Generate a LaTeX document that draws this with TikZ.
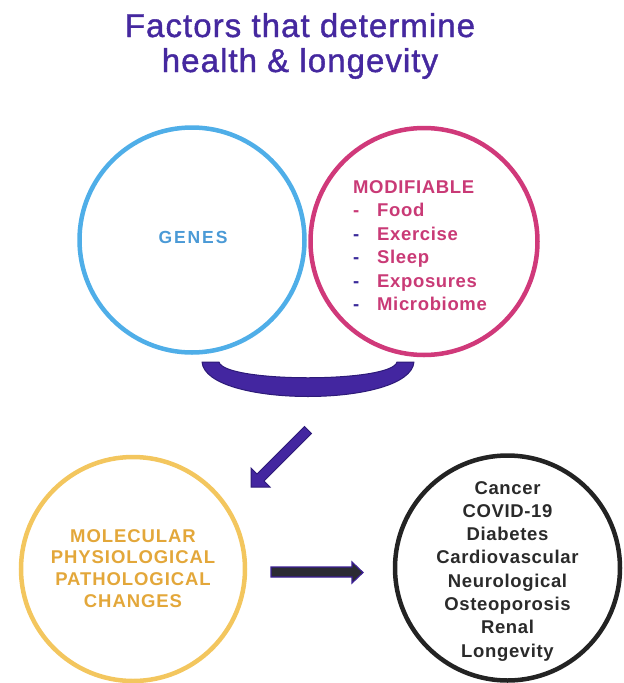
\documentclass[tikz,border=0pt]{standalone}
\usepackage{fontspec}
\setmainfont{Liberation Sans}
\newfontfamily\ftitle[LetterSpace=3.2,FakeBold=1.2]{Liberation Sans}
\newfontfamily\fcircletxt[LetterSpace=5]{Liberation Sans}
\newfontfamily\fmod[LetterSpace=3.5]{Liberation Sans}
\newfontfamily\fgenes[LetterSpace=11]{Liberation Sans}
\newfontfamily\fdis[LetterSpace=3.5]{Liberation Sans}
\definecolor{titlepurple}{HTML}{45289F}
\definecolor{gblue}{HTML}{4FAEE8}
\definecolor{gbluetxt}{HTML}{4B9AD6}
\definecolor{mpink}{HTML}{D0397A}
\definecolor{mpinktxt}{HTML}{C93A76}
\definecolor{dashpurple}{HTML}{3A2A9A}
\definecolor{yring}{HTML}{F3C65E}
\definecolor{ytxt}{HTML}{E3A73A}
\definecolor{kring}{HTML}{232323}
\definecolor{ktxt}{HTML}{2A2A2A}
\definecolor{bfill}{HTML}{4326A0}
\definecolor{bline}{HTML}{2D1A78}
\definecolor{afill}{HTML}{2B2B33}
\definecolor{aline}{HTML}{3B1F94}
\tikzset{
  ring/.style={circle, line width=4.5pt, inner sep=0pt, minimum size=#1},
  titletxt/.style={anchor=base, inner sep=0pt, text=titlepurple, font=\ftitle\fontsize{33}{35}\selectfont},
  genestxt/.style={anchor=base, inner sep=0pt, text=gbluetxt, font=\fgenes\bfseries\fontsize{17.5}{20}\selectfont},
  modtxt/.style={anchor=base west, inner sep=0pt, text=mpinktxt, font=\fmod\bfseries\fontsize{18.5}{20}\selectfont},
  ytext/.style={anchor=base, inner sep=0pt, text=ytxt, font=\fcircletxt\bfseries\fontsize{18.5}{20}\selectfont},
  ktext/.style={anchor=base, inner sep=0pt, text=ktxt, font=\fdis\bfseries\fontsize{18.5}{20}\selectfont},
  blockarrow/.style={fill=afill, draw=aline, line width=1.2pt, line join=miter},
  bracketshape/.style={fill=bfill, draw=bline, line width=1pt, line join=round}
}
\begin{document}
\begin{tikzpicture}[x=1pt,y=-1pt]
\useasboundingbox (0,0) rectangle (624,683);
% title
\node[titletxt] (t1) at (300,37) {Factors that determine};
\node[titletxt] (t2) at (300,72) {health \& longevity};
% circles
\node[ring=225pt, draw=gblue] (genes) at (192,240) {};
\node[ring=227pt, draw=mpink] (modif) at (424,241.5) {};
\node[ring=224pt, draw=yring] (changes) at (133,569) {};
\node[ring=225pt, draw=kring] (disease) at (507.5,568) {};
% genes text
\node[genestxt] (gtxt) at (193,243) {GENES};
% modifiable list
\node[modtxt] (m0) at (353,193) {MODIFIABLE};
\foreach \t [count=\i] in {Food,Exercise,Sleep,Exposures,Microbiome}{
  \node[modtxt] (m\i) at (377,{193+23.5*\i}) {\t};
}
\node[modtxt] (d1) at (353,{193+23.5}) {-};
\foreach \i in {2,...,5}{
  \node[modtxt, text=dashpurple] (d\i) at (353,{193+23.5*\i}) {-};
}
% changes text
\foreach \t [count=\i] in {MOLECULAR,PHYSIOLOGICAL,PATHOLOGICAL,CHANGES}{
  \node[ytext] (y\i) at (133,{542+21.7*(\i-1)}) {\t};
}
% disease text
\foreach \t [count=\i] in {Cancer,COVID-19,Diabetes,Cardiovascular,Neurological,Osteoporosis,Renal,Longevity}{
  \node[ktext] (k\i) at (507.5,{494+23.3*(\i-1)}) {\t};
}
% bracket
\draw[bracketshape] (202,362) -- (219,362)
  .. controls (224,383) and (392,383) .. (397,362)
  -- (414,362)
  .. controls (410,408) and (206,408) .. (202,362) -- cycle;
% diagonal arrow
\draw[bracketshape, line join=miter] (304.5,426.5) -- (257,474) -- (251,468) -- (251,487) -- (270,487) -- (264,481) -- (311.5,433.5) -- cycle;
% horizontal arrow
\draw[blockarrow] (271,567) -- (352,567) -- (352,562) -- (363,572.5) -- (352,583) -- (352,577) -- (271,577) -- cycle;
\end{tikzpicture}
\end{document}
